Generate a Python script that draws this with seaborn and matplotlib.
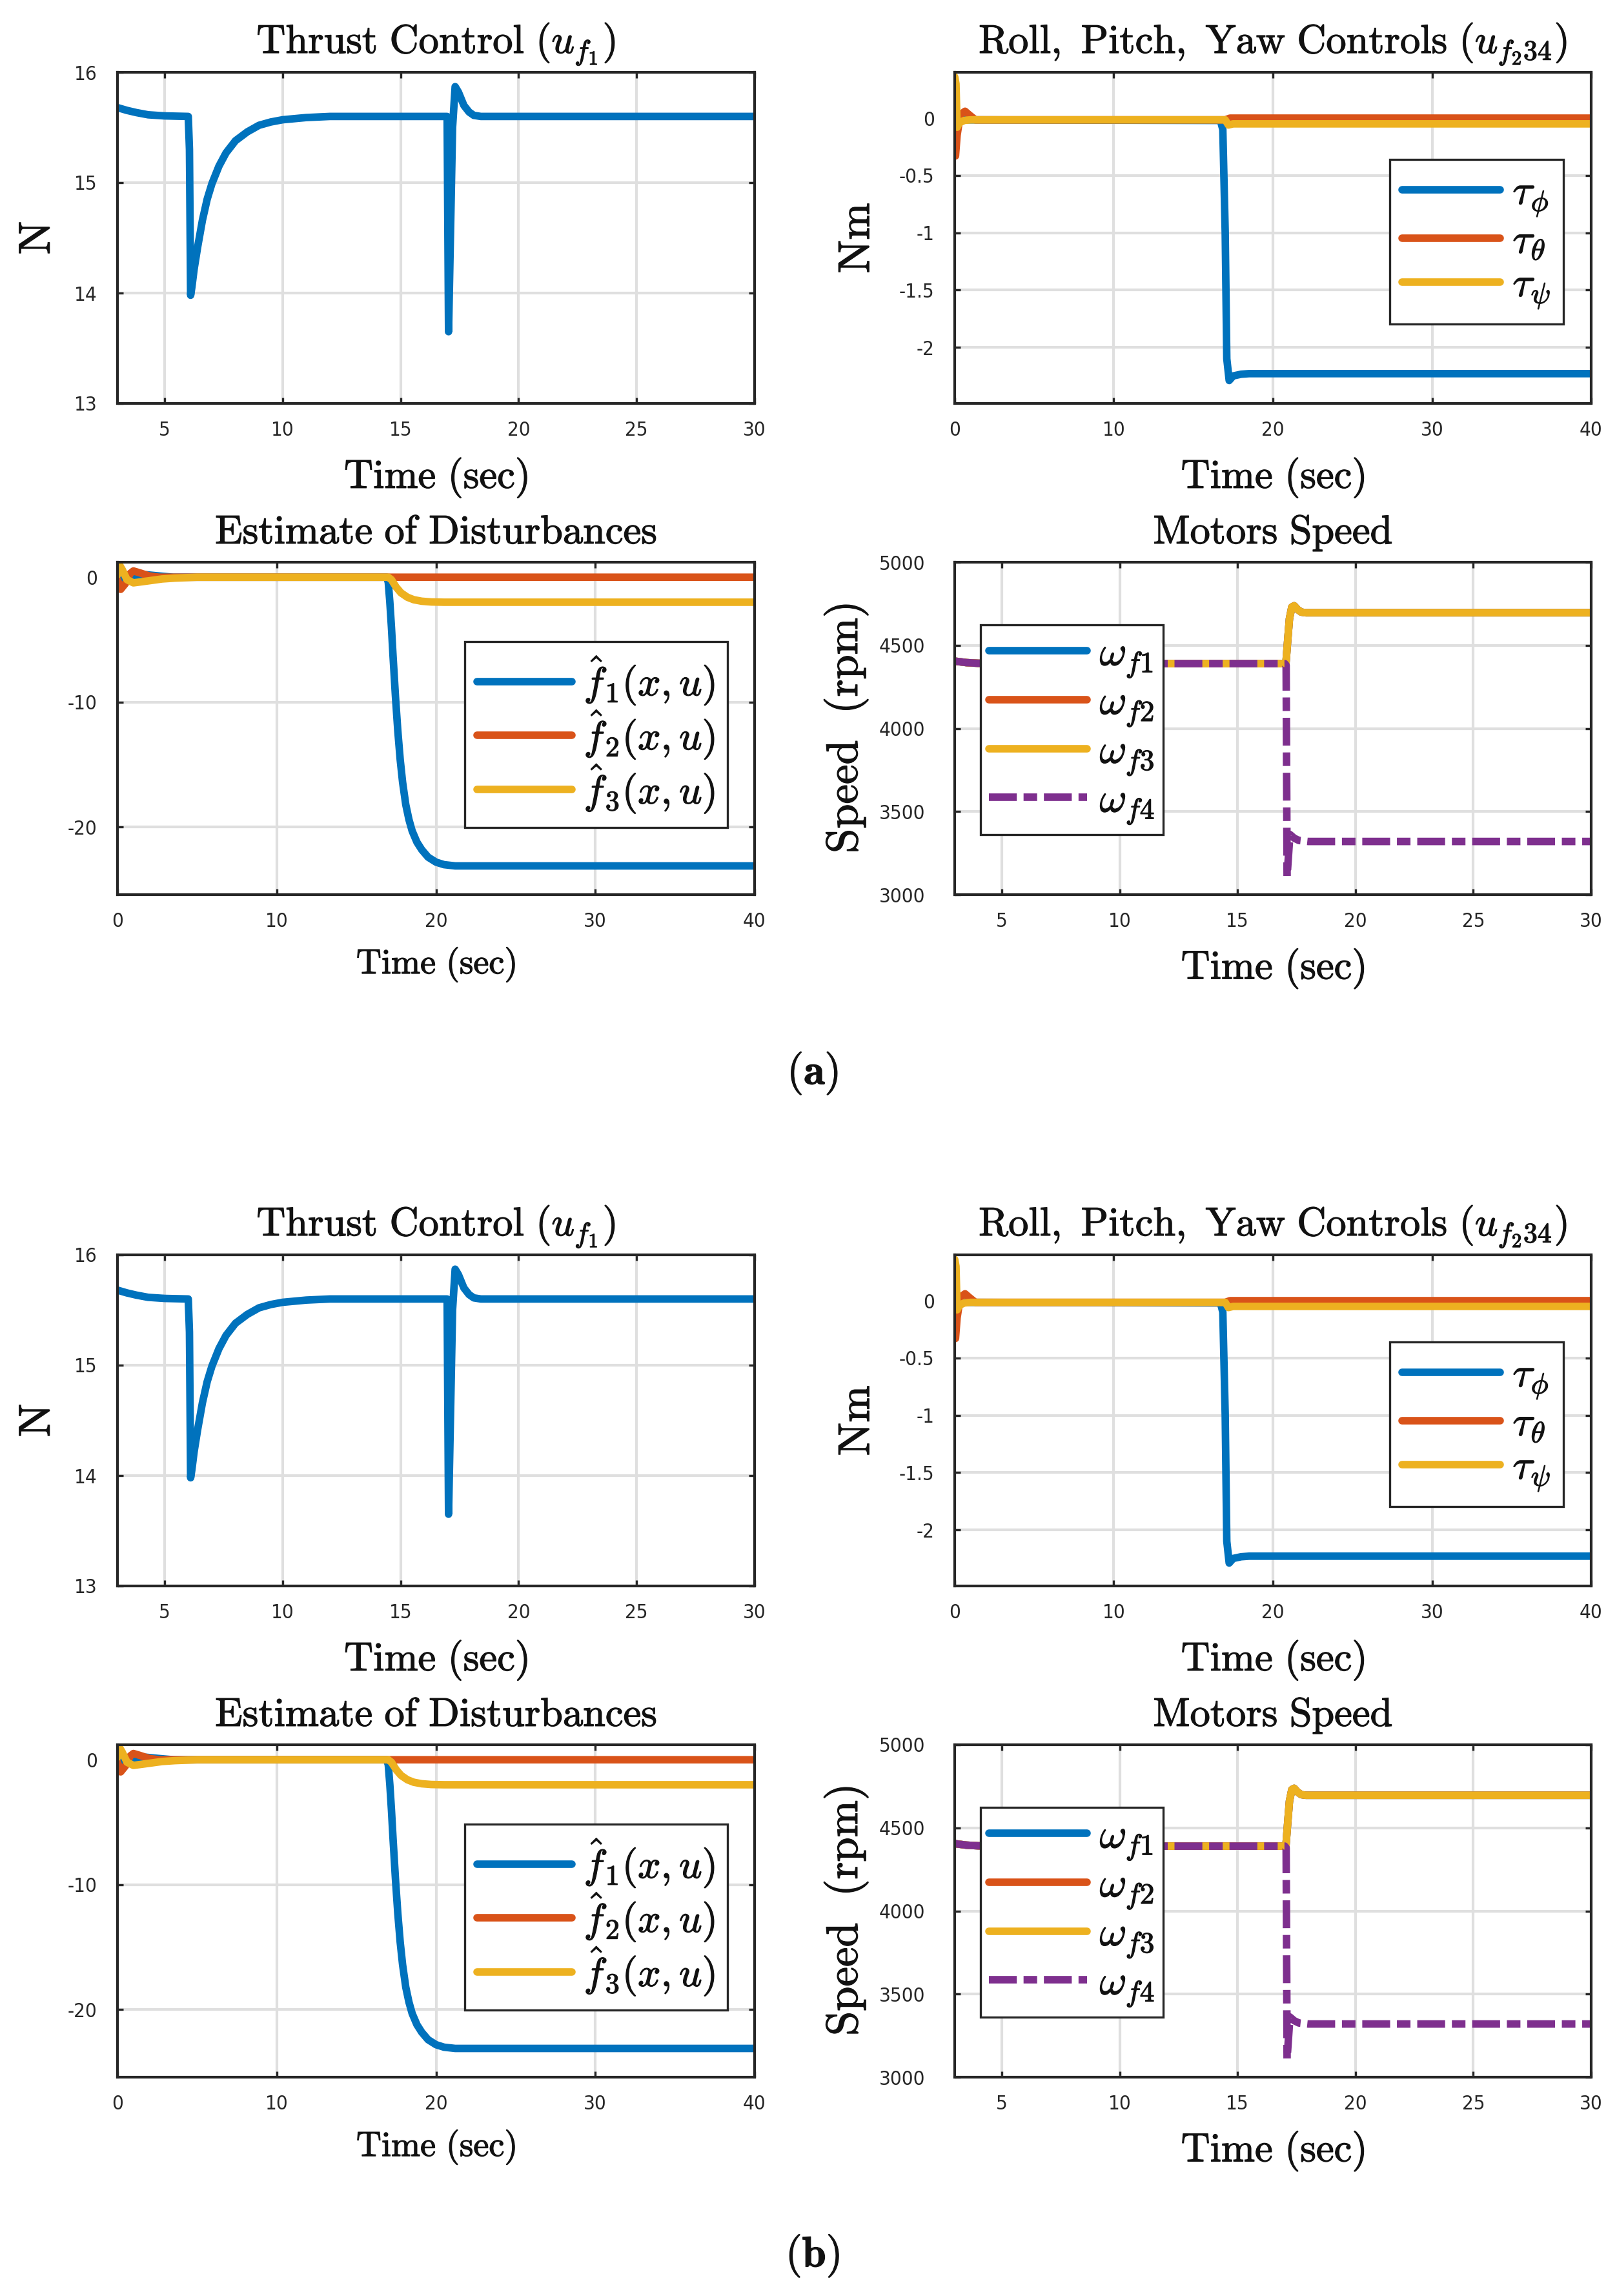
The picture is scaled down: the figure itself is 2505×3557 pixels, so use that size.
import matplotlib
matplotlib.use("Agg")
import matplotlib.pyplot as plt
import matplotlib.patheffects as pe
from matplotlib.ticker import FuncFormatter
import seaborn as sns

# ---------------- data ----------------
# Thrust control u_f1
thrust_t = [3.0, 3.4, 3.8, 4.3, 5.0, 6.0, 6.05, 6.1, 6.15, 6.25, 6.4, 6.6, 6.8, 7.0,
            7.3, 7.6, 8.0, 8.5, 9.0, 9.5, 10.0, 11.0, 12.0, 16.97, 17.03, 17.2,
            17.31, 17.45, 17.68, 17.9, 18.1, 18.4, 30.0]
thrust_u = [15.68, 15.655, 15.635, 15.615, 15.605, 15.60, 15.30, 13.98, 14.05, 14.22,
            14.42, 14.66, 14.85, 14.99, 15.15, 15.27, 15.38, 15.46, 15.52, 15.55, 15.57,
            15.59, 15.60, 15.60, 13.65, 15.50, 15.87, 15.82, 15.70, 15.64, 15.61, 15.60,
            15.60]

# Roll, pitch, yaw controls
tau_phi_t = [0.0, 16.7, 16.85, 17.0, 17.1, 17.25, 17.5, 18.0, 18.5, 40.0]
tau_phi_v = [-0.015, -0.02, -0.1, -1.0, -2.1, -2.29, -2.25, -2.235, -2.23, -2.23]
tau_theta_t = [0.0, 0.05, 0.15, 0.35, 0.65, 0.9, 1.3, 17.0, 17.3, 40.0]
tau_theta_v = [-0.2, -0.33, -0.15, 0.03, 0.06, 0.03, -0.015, -0.015, 0.0, 0.0]
tau_psi_t = [0.0, 0.08, 0.15, 0.3, 0.6, 1.0, 17.0, 17.2, 17.5, 40.0]
tau_psi_v = [0.36, 0.30, -0.08, -0.04, -0.02, -0.015, -0.015, -0.06, -0.05, -0.05]

# Estimate of disturbances
f1_t = [0.0, 0.4, 1.0, 1.8, 2.6, 3.5, 16.9, 17.0, 17.1, 17.2, 17.3, 17.45, 17.6, 17.75,
        17.9, 18.1, 18.3, 18.5, 18.8, 19.1, 19.5, 20.0, 20.5, 21.2, 40.0]
f1_v = [0.0, -0.3, -0.1, 0.2, 0.1, 0.0, 0.0, -0.4, -2.0, -4.0, -6.3, -9.5, -12.3, -14.6,
        -16.4, -18.2, -19.4, -20.3, -21.2, -21.8, -22.4, -22.8, -23.0, -23.1, -23.1]
f2_t = [0.0, 0.2, 0.5, 0.8, 1.0, 1.4, 2.0, 2.6, 40.0]
f2_v = [-0.2, -0.97, -0.5, 0.3, 0.5, 0.35, 0.1, 0.0, 0.0]
f3_t = [0.0, 0.07, 0.3, 0.6, 1.0, 1.6, 2.8, 3.6, 5.0, 17.0, 17.2, 17.5, 17.8, 18.2,
        18.6, 19.1, 19.7, 20.5, 40.0]
f3_v = [0.2, 1.1, 0.6, -0.2, -0.45, -0.35, -0.14, -0.07, 0.0, 0.0, -0.2, -0.8, -1.25,
        -1.6, -1.8, -1.92, -1.98, -2.0, -2.0]

# Motors speed (rpm); motors 1-3 share the same trace, motor 4 differs
w123_t = [3.0, 3.5, 4.0, 5.0, 17.05, 17.12, 17.2, 17.3, 17.4, 17.55, 17.7, 17.9, 30.0]
w123_v = [4405, 4396, 4392, 4390, 4390, 4520, 4660, 4730, 4738, 4715, 4700, 4696, 4696]
w4_t = [3.0, 3.5, 4.0, 5.0, 17.0, 17.06, 17.1, 17.22, 17.4, 17.6, 18.0, 30.0]
w4_v = [4405, 4396, 4392, 4390, 4390, 4380, 3110, 3362, 3340, 3326, 3320, 3320]

thrust_xticks = [5, 10, 15, 20, 25, 30]
thrust_yticks = [13, 14, 15, 16]
roll_xticks = [0, 10, 20, 30, 40]
roll_yticks = [-2, -1.5, -1, -0.5, 0]
est_xticks = [0, 10, 20, 30, 40]
est_yticks = [-20, -10, 0]
mot_xticks = [5, 10, 15, 20, 25, 30]
mot_yticks = [3000, 3500, 4000, 4500, 5000]

roll_labels = [r"$\tau_\phi$", r"$\tau_\theta$", r"$\tau_\psi$"]
est_labels = [r"$\hat{f}_1(x,u)$", r"$\hat{f}_2(x,u)$", r"$\hat{f}_3(x,u)$"]
mot_labels = [r"$\omega_{f1}$", r"$\omega_{f2}$", r"$\omega_{f3}$", r"$\omega_{f4}$"]
panel_tags = [r"$(\mathbf{a})$", r"$(\mathbf{b})$"]

# ---------------- style ----------------
sns.set_theme(style="whitegrid")
plt.rcParams.update({
    "mathtext.fontset": "cm",
    "axes.unicode_minus": False,
    "figure.facecolor": "white",
    "axes.facecolor": "white",
    "font.stretch": "condensed",
})
plt.rcParams["font.family"] = ["DejaVu Sans"]

BLUE, ORANGE, YELLOW, PURPLE = "#0072BD", "#D95319", "#EDB120", "#7E2F8E"
DARK = "#262626"
LW = 2.8
BOLDEN = [pe.withStroke(linewidth=0.3, foreground="#1a1a1a")]

W, H, DPI = 2505, 3557, 300
fig = plt.figure(figsize=(W / DPI, H / DPI), dpi=DPI)


def add_ax(left, top, right, bottom, dy):
    return fig.add_axes([left / W, 1 - (bottom + dy) / H, (right - left) / W, (bottom - top) / H])


def style(ax, xlim, xticks, ylim, yticks, ypad=7.5):
    ax.set_xlim(*xlim)
    ax.set_ylim(*ylim)
    ax.set_xticks(xticks)
    ax.set_yticks(yticks)
    fmt = FuncFormatter(lambda v, p: "%g" % v)
    ax.xaxis.set_major_formatter(fmt)
    ax.yaxis.set_major_formatter(fmt)
    ax.grid(True, color="#dfdfdf", linewidth=1.0)
    ax.set_axisbelow(True)
    for s in ax.spines.values():
        s.set_visible(True)
        s.set_color(DARK)
        s.set_linewidth(1.0)
    ax.tick_params(which="both", direction="in", length=2.2, width=0.8, color=DARK,
                   top=True, right=True, bottom=True, left=True,
                   labelsize=7.5, labelcolor=DARK)
    ax.tick_params(axis="x", pad=6.5)
    ax.tick_params(axis="y", pad=ypad)


def line(ax, t, v, color, label, **kw):
    sns.lineplot(x=t, y=v, ax=ax, color=color, linewidth=LW, estimator=None,
                 sort=False, label=label, legend=False, **kw)
    ln = ax.get_lines()[-1]
    ln.set_solid_capstyle("round")
    ln.set_solid_joinstyle("round")
    return ln


def titles(ax, title, ty, xlabel, xy, xsize, ylabel=None, yx=None, ysize=16.5):
    t = ax.set_title(title, y=ty, pad=0, va="baseline", fontsize=15, color="#111111")
    t.set_path_effects(BOLDEN)
    ax.set_xlabel(xlabel, fontsize=xsize, color="#111111")
    ax.xaxis.set_label_coords(0.5, xy)
    ax.xaxis.label.set_va("baseline")
    ax.xaxis.label.set_path_effects(BOLDEN)
    if ylabel is not None:
        ax.set_ylabel(ylabel, fontsize=ysize, color="#111111")
        ax.yaxis.set_label_coords(yx, 0.5)
        ax.yaxis.label.set_va("center")
        ax.yaxis.label.set_ha("center")
        ax.yaxis.label.set_path_effects(BOLDEN)
    else:
        ax.set_ylabel("")


def legend(ax, handles, labels, loc, anchor, spacing, size=15.5, bpad=0.3):
    leg = ax.legend(handles, labels, loc=loc, bbox_to_anchor=anchor, borderaxespad=0,
                    fontsize=size, handlelength=2.35, handletextpad=0.3,
                    labelspacing=spacing, borderpad=bpad, frameon=True,
                    fancybox=False, framealpha=1, edgecolor=DARK)
    leg.get_frame().set_linewidth(0.8)
    for txt in leg.get_texts():
        txt.set_color("#111111")
        txt.set_path_effects(BOLDEN)
    return leg


xtime = r"$\mathrm{Time\ (sec)}$"

for k, dy in enumerate([0, 1832]):
    # Thrust control
    ax = add_ax(182, 112, 1169, 625, dy)
    line(ax, thrust_t, thrust_u, BLUE, "u")
    style(ax, (3, 30), thrust_xticks, (13, 16), thrust_yticks)
    titles(ax, r"$\mathrm{Thrust\ Control}\ (u_{f_1})$", 1.0585, xtime, -0.255, 15,
           r"$\mathrm{N}$", -0.126)

    # Roll, pitch, yaw
    ax = add_ax(1479, 112, 2465, 625, dy)
    h1 = line(ax, tau_phi_t, tau_phi_v, BLUE, roll_labels[0])
    h2 = line(ax, tau_theta_t, tau_theta_v, ORANGE, roll_labels[1])
    h3 = line(ax, tau_psi_t, tau_psi_v, YELLOW, roll_labels[2])
    style(ax, (0, 40), roll_xticks, (-2.49, 0.4), roll_yticks)
    titles(ax, r"$\mathrm{Roll,\ Pitch,\ Yaw\ Controls}\ (u_{f_2 34})$", 1.0585, xtime,
           -0.255, 15, r"$\mathrm{Nm}$", -0.154)
    legend(ax, [h1, h2, h3], roll_labels, "upper right", (0.956, 0.737), 0.05)

    # Estimate of disturbances
    ax = add_ax(182, 871, 1169, 1386, dy)
    h1 = line(ax, f1_t, f1_v, BLUE, est_labels[0])
    h2 = line(ax, f2_t, f2_v, ORANGE, est_labels[1])
    h3 = line(ax, f3_t, f3_v, YELLOW, est_labels[2])
    style(ax, (0, 40), est_xticks, (-25.4, 1.2), est_yticks)
    titles(ax, r"$\mathrm{Estimate\ of\ Disturbances}$", 1.056, xtime, -0.237, 13)
    legend(ax, [h1, h2, h3], est_labels, "upper right", (0.957, 0.761), 0.02, size=15)

    # Motors speed
    ax = add_ax(1479, 871, 2465, 1386, dy)
    h1 = line(ax, w123_t, w123_v, BLUE, mot_labels[0])
    h2 = line(ax, w123_t, w123_v, ORANGE, mot_labels[1])
    h3 = line(ax, w123_t, w123_v, YELLOW, mot_labels[2])
    h4 = line(ax, w4_t, w4_v, PURPLE, mot_labels[3])
    h4.set_linestyle((0, (3.7, 0.9, 1.8, 0.9)))
    h4.set_dash_capstyle("butt")
    style(ax, (3, 30), mot_xticks, (3000, 5000), mot_yticks, ypad=11)
    titles(ax, r"$\mathrm{Motors\ Speed}$", 1.056, xtime, -0.253, 15,
           r"$\mathrm{Speed\ \ (rpm)}$", -0.171)
    legend(ax, [h1, h2, h3, h4], mot_labels, "upper left", (0.041, 0.812), 0.05, bpad=0.2)

    tag = fig.text(1259 / W, 1 - (1663 + dy) / H, panel_tags[k], ha="center", va="center",
                   fontsize=16, color="#111111")
    tag.set_path_effects(BOLDEN)

fig.savefig("out.png", dpi=DPI)
